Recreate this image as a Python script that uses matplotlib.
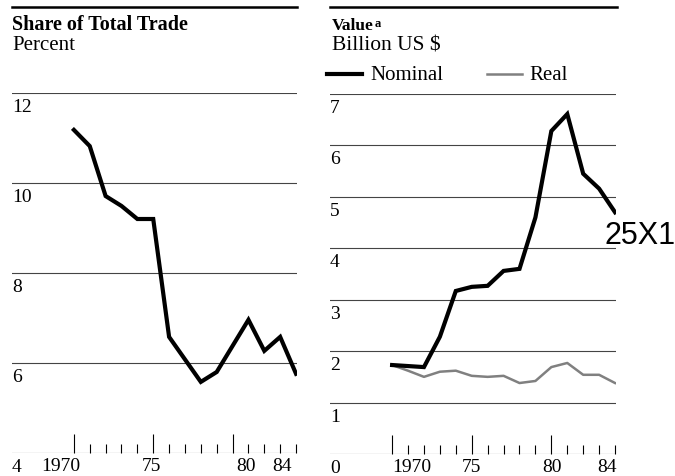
import numpy as np
import matplotlib
matplotlib.use("Agg")
import matplotlib.pyplot as plt
import matplotlib.transforms as mtransforms
from matplotlib.lines import Line2D

plt.rcParams["font.family"] = ["Liberation Serif", "DejaVu Serif"]

# Data
years = [1970, 1971, 1972, 1973, 1974, 1975, 1976, 1977, 1978, 1979,
         1980, 1981, 1982, 1983, 1984]
share = [11.18, 10.82, 9.71, 9.49, 9.2, 9.2, 6.58, 6.08, 5.58, 5.8,
         6.38, 6.96, 6.27, 6.58, 5.76]
nominal = [1.73, 1.71, 1.69, 2.28, 3.17, 3.25, 3.27, 3.56, 3.6, 4.6,
           6.28, 6.61, 5.45, 5.16, 4.7]
real = [1.73, 1.62, 1.5, 1.6, 1.62, 1.52, 1.5, 1.52, 1.38, 1.42,
        1.69, 1.77, 1.54, 1.54, 1.38]
share_ticks = [4, 6, 8, 10, 12]
value_ticks = [0, 1, 2, 3, 4, 5, 6, 7]
major_years = [1970, 1975, 1980]
major_labels = ["1970", "75", "80"]
minor_years = [y for y in years if y not in major_years]
minor_labels = ["84" if y == 1984 else "" for y in minor_years]

W, H = 675, 477
fig = plt.figure(figsize=(W / 100, H / 100), dpi=100)


def px_axes(x0, y_top, x1, y_bot):
    return fig.add_axes([x0 / W, 1 - y_bot / H, (x1 - x0) / W, (y_bot - y_top) / H])


def shift_label(label, dx):
    # move a tick label sideways by dx pixels (typeset positions are uneven)
    off = mtransforms.ScaledTranslation(dx / 100, 0, fig.dpi_scale_trans)
    label.set_transform(label.get_transform() + off)


def style_axis(ax, ticks, shifts):
    for s in ax.spines.values():
        s.set_visible(False)
    ax.set_yticks([])
    for v in ticks:
        ax.axhline(v, color="#444444", lw=0.8, zorder=1)
        ax.annotate(str(v), xy=(0, v), xycoords=("axes fraction", "data"),
                    xytext=(0, -5), textcoords="offset pixels",
                    ha="left", va="top", fontsize=14)
    ax.set_xticks(major_years, labels=major_labels)
    ax.set_xticks(minor_years, labels=minor_labels, minor=True)
    ax.tick_params(axis="x", which="major", direction="in", length=14,
                   width=0.8, pad=3, labelsize=14)
    ax.tick_params(axis="x", which="minor", direction="in", length=6.5,
                   width=0.8, pad=3, labelsize=14)
    ax.set_xlim(1966.1, 1984.06)
    labels = ax.get_xticklabels() + [ax.get_xticklabels(minor=True)[-1]]
    for lab, dx in zip(labels, shifts):
        shift_label(lab, dx)


# Left panel: share of total trade
ax1 = px_axes(12, 94, 297, 454)
ax1.set_ylim(4, 12)
style_axis(ax1, share_ticks, [-13, -2, 13, -14])
ax1.plot(years, share, color="black", lw=3, solid_joinstyle="miter", zorder=3)

# Right panel: value
ax2 = px_axes(330, 95, 616, 455)
ax2.set_ylim(0, 7)
style_axis(ax2, value_ticks, [20, 0, 1, -8])
ax2.plot(years, real, color="#808080", lw=1.8, zorder=2)
ax2.plot(years, nominal, color="black", lw=3, solid_joinstyle="miter", zorder=3)

# Headers
fig.add_artist(Line2D([12 / W, 297 / W], [1 - 8 / H, 1 - 8 / H], color="black", lw=1.8))
fig.add_artist(Line2D([330 / W, 617 / W], [1 - 8 / H, 1 - 8 / H], color="black", lw=1.8))
fig.text(12 / W, 1 - 30 / H, "Share of Total Trade", fontsize=14.5, fontweight="bold")
fig.text(12 / W, 1 - 50 / H, "Percent", fontsize=15)
val = fig.text(332 / W, 1 - 30 / H, "Value", fontsize=12.5, fontweight="bold")
ax2.annotate("a", xy=(1, 1), xycoords=val, xytext=(1, 0), textcoords="offset pixels",
             ha="left", va="top", fontsize=9, fontweight="bold", annotation_clip=False)
fig.text(332 / W, 1 - 50 / H, "Billion US $", fontsize=15.5)

# Legend
fig.add_artist(Line2D([327 / W, 362 / W], [1 - 75 / H, 1 - 75 / H], color="black", lw=3))
fig.text(370 / W, 1 - 75 / H, "Nominal", fontsize=15, va="center")
fig.add_artist(Line2D([487 / W, 522 / W], [1 - 75 / H, 1 - 75 / H], color="#808080", lw=1.8))
fig.text(529 / W, 1 - 75 / H, "Real", fontsize=15, va="center")

# Stamp
fig.text(605 / W, 1 - 244 / H, "25X1", fontsize=22, family="Liberation Sans")

fig.savefig("out.png", dpi=100)
